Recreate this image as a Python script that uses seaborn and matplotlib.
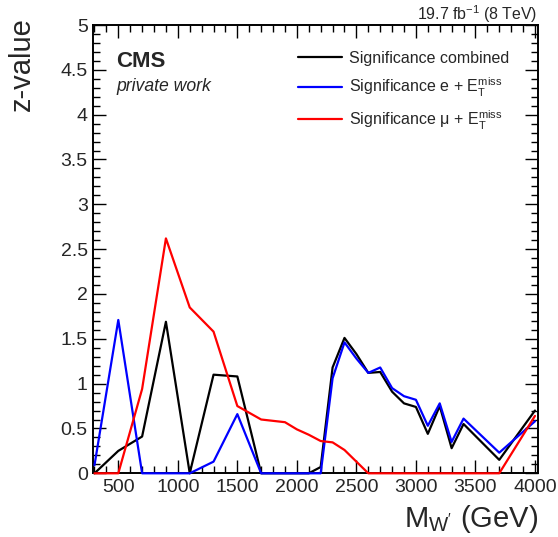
import matplotlib
matplotlib.use("Agg")
import matplotlib.pyplot as plt
import seaborn as sns
import pandas as pd
from matplotlib.ticker import MultipleLocator, FormatStrFormatter

# ---- data ----
mass = [300, 500, 700, 900, 1100, 1300, 1500, 1700, 1900, 2000, 2100, 2200,
        2300, 2400, 2500, 2600, 2700, 2800, 2900, 3000, 3100, 3200, 3300, 3400,
        3700, 4000]
sig_combined = [0.0, 0.25, 0.41, 1.69, 0.0, 1.10, 1.08, 0.0, 0.0, 0.0, 0.0, 0.07,
                1.18, 1.51, 1.33, 1.12, 1.13, 0.91, 0.78, 0.74, 0.44, 0.75, 0.28, 0.55,
                0.15, 0.70]
sig_e = [0.09, 1.71, 0.0, 0.0, 0.0, 0.13, 0.66, 0.0, 0.0, 0.0, 0.0, 0.0,
         1.06, 1.46, 1.28, 1.12, 1.18, 0.95, 0.86, 0.82, 0.53, 0.78, 0.35, 0.61,
         0.23, 0.58]
sig_mu = [0.0, 0.0, 0.94, 2.62, 1.85, 1.58, 0.75, 0.60, 0.57, 0.49, 0.43, 0.36,
          0.345, 0.26, 0.13, 0.0, 0.0, 0.0, 0.0, 0.0, 0.0, 0.0, 0.0, 0.0,
          0.0, 0.64]
series_labels = ["Significance combined",
                 r"Significance e + $\mathregular{E_{T}^{miss}}$",
                 r"Significance μ + $\mathregular{E_{T}^{miss}}$"]
series_colors = ["#000000", "#0000ff", "#ff0000"]

df = pd.concat([
    pd.DataFrame({"mass": mass, "z": sig_combined, "series": series_labels[0]}),
    pd.DataFrame({"mass": mass, "z": sig_e, "series": series_labels[1]}),
    pd.DataFrame({"mass": mass, "z": sig_mu, "series": series_labels[2]}),
], ignore_index=True)

sns.set_style("ticks")
plt.rcParams["font.family"] = ["Liberation Sans", "DejaVu Sans"]
plt.rcParams["mathtext.fontset"] = "custom"
plt.rcParams["mathtext.rm"] = "Liberation Sans"
plt.rcParams["mathtext.it"] = "Liberation Sans:italic"
plt.rcParams["mathtext.bf"] = "Liberation Sans:bold"

W, H = 558, 537
fig = plt.figure(figsize=(W / 100, H / 100), dpi=100)
ax = fig.add_axes([93.3 / W, 1 - 473.3 / H, (538.3 - 93.3) / W, (473.3 - 25) / H])

sns.lineplot(data=df, x="mass", y="z", hue="series", hue_order=series_labels,
             palette=series_colors, estimator=None, sort=False, linewidth=1.6,
             ax=ax)
for ln in ax.get_lines():
    ln.set_clip_on(False)
    ln.set_zorder(3)

ax.set_xlim(290, 4028)
ax.set_ylim(0, 5)

ax.xaxis.set_major_locator(MultipleLocator(500))
ax.xaxis.set_minor_locator(MultipleLocator(100))
ax.yaxis.set_major_locator(MultipleLocator(0.5))
ax.yaxis.set_minor_locator(MultipleLocator(0.1))
ax.yaxis.set_major_formatter(FormatStrFormatter("%g"))
ax.tick_params(which="both", direction="in", top=True, right=True, width=1.0,
               color="black")
ax.tick_params(which="major", length=9.5, labelsize=14, pad=4)
ax.tick_params(which="minor", length=5)
for s in ax.spines.values():
    s.set_linewidth(1.4)
    s.set_color("black")
    s.set_zorder(2.5)

ax.set_xlabel(r"$\mathregular{M_{W'}}$ (GeV)", fontsize=21, loc="right")
ax.xaxis.set_label_coords(1.0, -0.066)
ax.set_ylabel("z-value", fontsize=21, loc="top")
ax.yaxis.set_label_coords(-0.128, 1.018)

fig.text(537 / W, 1 - 20 / H, r"19.7 fb$^{\mathregular{-1}}$ (8 TeV)", ha="right",
         va="baseline", fontsize=11.4)
fig.text(116.5 / W, 1 - 67 / H, "CMS", fontsize=16, fontweight="bold",
         ha="left", va="baseline")
fig.text(116.5 / W, 1 - 91 / H, "private work", fontsize=12.7, style="italic",
         ha="left", va="baseline")

handles, labels = ax.get_legend_handles_labels()
ax.legend(handles, labels, loc="upper left", bbox_to_anchor=(298 / W, 1 - 51 / H),
          bbox_transform=fig.transFigure, frameon=False, fontsize=11.5,
          handlelength=2.75, handletextpad=0.45, labelspacing=0.6,
          borderpad=0, borderaxespad=0)

fig.savefig("out.png", dpi=100)
